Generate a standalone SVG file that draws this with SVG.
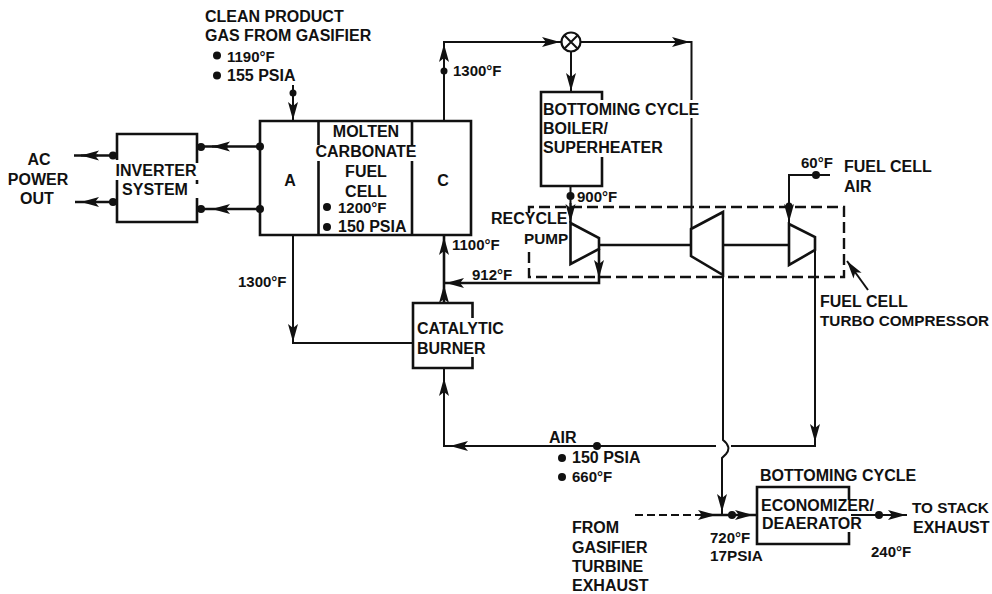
<svg xmlns="http://www.w3.org/2000/svg" width="992" height="594" viewBox="0 0 992 594">
<style>
text{font-family:"Liberation Sans",Arial,sans-serif;font-weight:700;font-size:16px;fill:#111}
.n{font-size:15px}
.s{font-size:15.300px}
.m{text-anchor:middle}
.l{fill:none;stroke:#111;stroke-width:2}
.t{fill:none;stroke:#111;stroke-width:2.6}
.d{fill:none;stroke:#111;stroke-width:2.4;stroke-dasharray:11 5}
.a{fill:none;stroke:#111;stroke-width:2;marker-end:url(#ah)}
.o{fill:#111}
</style>
<defs>
<marker id="ah" markerUnits="userSpaceOnUse" markerWidth="20" markerHeight="12" refX="18" refY="6" orient="auto"><path d="M0 1 L18 6 L0 11 L4 6 Z" fill="#111"/></marker>
</defs>
<rect width="992" height="594" fill="#fff"/>
<g id="connectors">
<path class="l" d="M293 85V121"/><path class="a" d="M293 100V120"/><circle class="o" cx="293" cy="93" r="3.500"/>
<path class="t" d="M260 146.500H199M260 209H199"/><path class="a" d="M228 146.500H212"/><path class="a" d="M228 209H212"/>
<circle class="o" cx="260" cy="146.500" r="4"/><circle class="o" cx="260" cy="209" r="4"/><circle class="o" cx="201" cy="147" r="4"/><circle class="o" cx="201" cy="209" r="4"/>
<path class="t" d="M74 155.500H113M75 202H113"/><path class="a" d="M98 155.500H81"/><path class="a" d="M98 202H81"/>
<circle class="o" cx="113" cy="155.500" r="4"/><circle class="o" cx="113" cy="202" r="4"/>
<path class="l" d="M444 121V42H561M581 42H691.500V100M691.500 118V229"/>
<path class="a" d="M444 65V44"/><circle class="o" cx="444" cy="71" r="3.500"/>
<path class="a" d="M542 42H560"/><path class="a" d="M668 42H690"/>
<circle cx="571" cy="42" r="9.500" fill="none" stroke="#111" stroke-width="2.200"/><path class="l" d="M564.300 35.300L577.700 48.700M577.700 35.300L564.300 48.700"/>
<path class="l" d="M571 51.500V92"/><path class="a" d="M571 70V91"/>
<path class="l" d="M570.500 186V223"/><circle class="o" cx="570.500" cy="196" r="4"/><path class="a" d="M570.500 203V222"/>
<path class="t" d="M599 245H690M723 245H789"/>
<path class="t" d="M599 249V283H444"/><path class="a" d="M599 258V278"/><path class="a" d="M468 283H446"/>
<path class="t" d="M444 303V235"/><path class="a" d="M444 258V237"/><path class="a" d="M444 303V285"/>
<path class="l" d="M293 235V343H414"/><path class="a" d="M293 322V342"/>
<path class="l" d="M723 275V440Q732 447 726 454L722 458V515"/>
<path class="a" d="M722 490V512"/>
<path class="l" d="M815 250V446H731M716 446H444V369"/>
<path class="a" d="M815 420V442"/><path class="a" d="M466 446H450"/><path class="a" d="M444 396V378"/>
<circle class="o" cx="597" cy="446" r="4"/>
<path class="l" stroke-dasharray="8 4" d="M635 515H700"/>
<path class="t" d="M700 515H757"/><path class="a" d="M695 515H716"/><circle class="o" cx="732" cy="515" r="4"/><path class="a" d="M737 515H753"/>
<path class="l" d="M851 515H907"/><circle class="o" cx="879" cy="515" r="4"/><path class="a" d="M885 515H906"/>
<path class="l" d="M830 175H789V224"/><circle class="o" cx="816" cy="175" r="4"/><circle class="o" cx="789" cy="206" r="3.500"/><path class="a" d="M789 205V222"/>
<path class="d" d="M529 213V207H844V277H529V249"/>
<path class="a" d="M868 290L847 261"/>
</g>
<g id="fuel-cell"><path class="t" d="M260 121H471V235H260ZM318.500 121V145M318.500 161V235M412 121V145M412 161V235"/>
<text class="m" x="366" y="137">MOLTEN</text><text class="m" x="366" y="157">CARBONATE</text><text class="m" x="366" y="177">FUEL</text><text class="m" x="366" y="197">CELL</text>
<circle class="o" cx="327" cy="207" r="4"/><circle class="o" cx="327" cy="227" r="4"/>
<text class="n" x="338" y="213">1200°F</text><text x="338" y="232">150 PSIA</text>
<text class="m" x="290" y="186">A</text><text class="m" x="443" y="186">C</text></g>
<g id="inverter"><path class="t" d="M117 160V134H197V163M197 180V184M197 198V222H117V180"/><text class="m" x="156" y="176">INVERTER</text><text class="m" x="155" y="195">SYSTEM</text></g>
<g id="boiler"><path class="t" d="M602 100V92H541V186H602V157"/><text x="543" y="115">BOTTOMING CYCLE</text><text x="543" y="134">BOILER/</text><text x="543" y="153">SUPERHEATER</text></g>
<g id="burner"><path class="t" d="M472.500 318V303H413V368H472.500V357"/><text x="417" y="334">CATALYTIC</text><text x="417" y="354">BURNER</text></g>
<g id="pump"><path class="t" d="M570.500 223L599 238V249L570.500 264Z"/><text x="491" y="224">RECYCLE</text><text class="s" x="524" y="244">PUMP</text></g>
<g id="turbine"><path class="t" d="M691 229L723 212V275L691 256Z"/></g>
<g id="compressor"><path class="t" d="M789 224L815 237V250L789 265Z"/></g>
<g id="economizer"><path class="t" d="M849 500V487H757V544H849V532"/><text x="761" y="511">ECONOMIZER/</text><text x="762" y="529">DEAERATOR</text><text x="760" y="481">BOTTOMING CYCLE</text></g>
<g id="labels">
<text x="205" y="22">CLEAN PRODUCT</text><text x="205" y="41">GAS FROM GASIFIER</text>
<circle class="o" cx="217" cy="55.500" r="4"/><circle class="o" cx="217" cy="75.500" r="4"/>
<text class="n" x="227" y="62">1190°F</text><text x="227" y="81">155 PSIA</text>
<text class="m" x="39" y="165">AC</text><text class="m" x="38" y="185">POWER</text><text class="m" x="37" y="204">OUT</text>
<text class="n" x="453" y="76">1300°F</text><text class="n" x="452" y="250">1100°F</text><text class="n" x="472" y="280">912°F</text><text class="n" x="577" y="202">900°F</text><text class="n" x="238" y="287">1300°F</text>
<text class="n" x="801" y="168">60°F</text><text x="844" y="172">FUEL CELL</text><text x="844" y="192">AIR</text>
<text x="820" y="307">FUEL CELL</text><text class="s" x="820" y="326">TURBO COMPRESSOR</text>
<text x="549" y="443">AIR</text><circle class="o" cx="562" cy="458" r="4"/><circle class="o" cx="562" cy="477" r="4"/><text x="572" y="463">150 PSIA</text><text class="n" x="572" y="482">660°F</text>
<text class="s" x="912" y="513">TO STACK</text><text x="913" y="533">EXHAUST</text><text class="n" x="871" y="557">240°F</text>
<text class="n" x="710" y="543">720°F</text><text class="s" x="710" y="561">17PSIA</text>
<text x="572" y="533">FROM</text><text x="572" y="553">GASIFIER</text><text x="572" y="572">TURBINE</text><text x="572" y="591">EXHAUST</text>
</g>
</svg>
